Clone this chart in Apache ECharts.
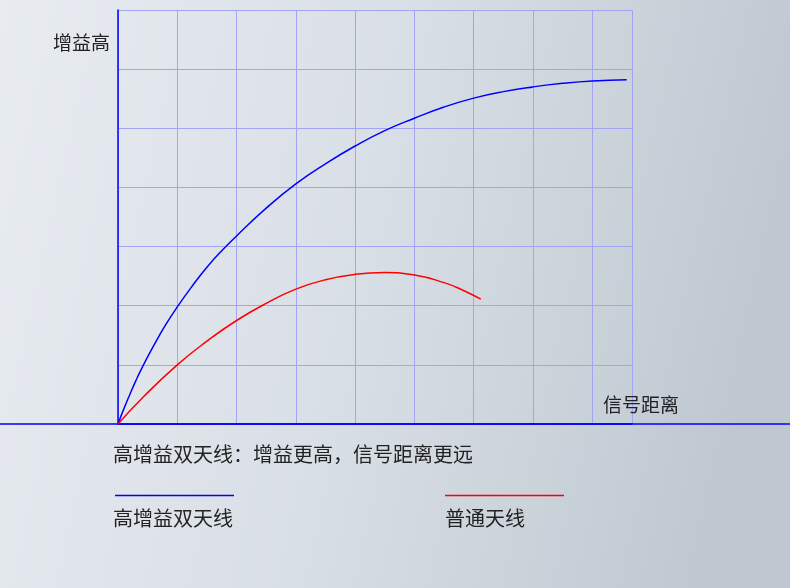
<!DOCTYPE html>
<html><head><meta charset="utf-8">
<script src="https://cdn.jsdelivr.net/npm/echarts@6/dist/echarts.min.js"></script>
<style>html,body{margin:0;padding:0;}#c{width:790px;height:588px;}</style>
</head><body><div id="c"></div>
<script>
// data
var seriesNames = ['高增益双天线', '普通天线'];
var highGain = [[0,0],[0.1,0.26],[0.2,0.5],[0.3,0.73],[0.43,1.0],[0.6,1.32],[0.8,1.67],[1,1.98],[1.25,2.33],[1.5,2.65],[1.75,2.93],[2,3.18],[2.5,3.65],[3,4.06],[3.5,4.4],[4,4.7],[4.5,4.96],[5,5.17],[5.5,5.36],[6,5.51],[6.5,5.62],[7,5.7],[7.5,5.76],[8,5.8],[8.58,5.82]];
var normal = [[0,0],[0.43,0.46],[1,1.0],[1.5,1.4],[2,1.75],[2.5,2.04],[3,2.28],[3.5,2.44],[4,2.53],[4.5,2.56],[5,2.52],[5.5,2.39],[5.8,2.27],[6.12,2.11]];
var xName = '信号距离';
var yName = '增益高';
var caption = '高增益双天线：增益更高，信号距离更远';

var chart = echarts.init(document.getElementById('c'));
var font = '"Noto Sans CJK SC", sans-serif';
chart.setOption({
  backgroundColor: new echarts.graphic.LinearGradient(0, 0, 1, 0.3, [
    {offset: 0, color: '#e8ecf1'},
    {offset: 0.5, color: '#d9dfe6'},
    {offset: 1, color: '#bfc8d1'}
  ]),
  animation: false,
  grid: {left: 118, top: 10, width: 514, height: 414},
  xAxis: {
    type: 'value', min: 0, max: 8.67, interval: 1,
    name: xName, nameLocation: 'end', nameGap: 9,
    nameTextStyle: {fontFamily: font, fontSize: 19, color: '#222', align: 'center', verticalAlign: 'bottom', padding: [0, 0, 10, 0]},
    axisLine: {show: true, lineStyle: {color: '#0000ff', width: 1.5}},
    axisTick: {show: false}, axisLabel: {show: false},
    splitLine: {show: true, lineStyle: {color: '#a2a4f4', width: 1}}
  },
  yAxis: {
    type: 'value', min: 0, max: 7, interval: 1,
    name: yName, nameLocation: 'end', nameGap: -33,
    nameTextStyle: {fontFamily: font, fontSize: 19, color: '#222', align: 'right', verticalAlign: 'middle', padding: [0, 8, 0, 0]},
    axisLine: {show: true, lineStyle: {color: '#0000ff', width: 1.5}},
    axisTick: {show: false}, axisLabel: {show: false},
    splitLine: {show: true, lineStyle: {color: '#a2a4f4', width: 1}}
  },
  series: [
    {name: seriesNames[0], type: 'line', data: highGain, smooth: 0.5, symbol: 'none', lineStyle: {color: '#0000ff', width: 1.5}, z: 3},
    {name: seriesNames[1], type: 'line', data: normal, smooth: 0.5, symbol: 'none', lineStyle: {color: '#ff0000', width: 1.5}, z: 3}
  ],
  graphic: [
    {type: 'line', shape: {x1: 0, y1: 424, x2: 790, y2: 424}, style: {stroke: '#0000ff', lineWidth: 1.5}, z: 1},
    {type: 'text', left: 113, top: 444, style: {text: caption, font: '20px ' + font, fill: '#222'}},
    {type: 'line', shape: {x1: 115, y1: 495.5, x2: 234, y2: 495.5}, style: {stroke: '#0000ff', lineWidth: 1.3}},
    {type: 'line', shape: {x1: 445, y1: 495.5, x2: 564, y2: 495.5}, style: {stroke: '#ff0000', lineWidth: 1.3}},
    {type: 'text', left: 113, top: 508, style: {text: seriesNames[0], font: '20px ' + font, fill: '#222'}},
    {type: 'text', left: 445, top: 508, style: {text: seriesNames[1], font: '20px ' + font, fill: '#222'}}
  ]
});
</script></body></html>
